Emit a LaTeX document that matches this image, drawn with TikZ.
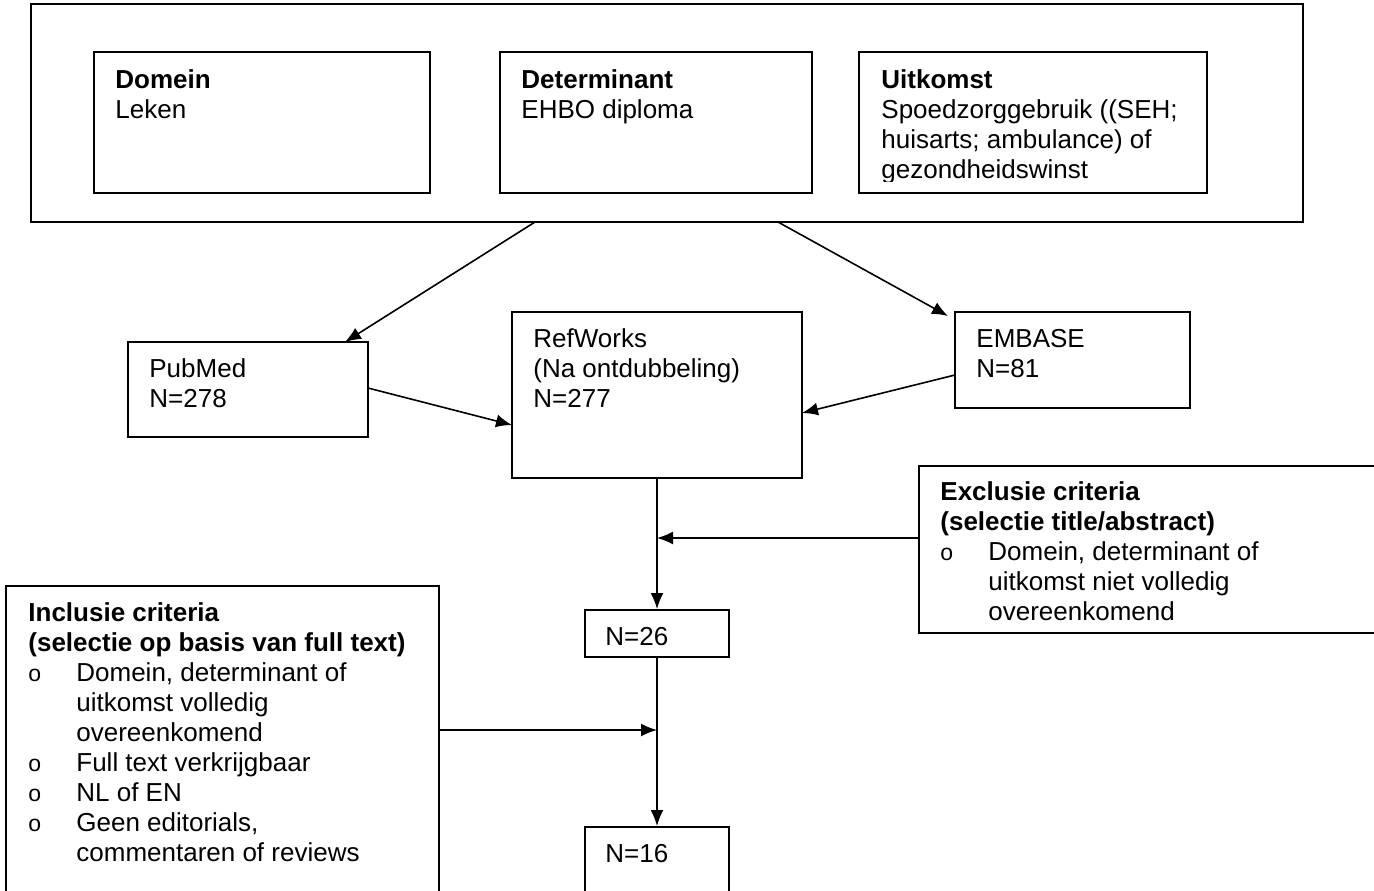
\documentclass[tikz,border=0pt]{standalone}
\usepackage{fontspec}
\setmainfont{Liberation Sans}
\usetikzlibrary{arrows.meta,fit}
\newcommand{\tlines}[1]{\vtop{\baselineskip=15pt\lineskiplimit=-20pt\lineskip=0pt #1}}
\newcommand{\bulline}[1]{\hbox{\makebox[24pt][l]{\fontsize{11.5}{12}\selectfont o}#1}}
\newcommand{\indline}[1]{\hbox{\hspace*{24pt}#1}}
\begin{document}
\begin{tikzpicture}[x=0.5pt,y=-0.5pt,
  box/.style={draw, line width=1pt, inner sep=0pt},
  lbl/.style={anchor=base west, inner sep=0pt, font=\fontsize{13}{15}\selectfont},
  arr/.style={line width=0.8pt, -{Latex[length=8pt,width=6.5pt]}}]
\useasboundingbox (0,0) rectangle (1374,890);
\clip (0,0) rectangle (1374,890);
\fill[white] (0,0) rectangle (1374,890);

% boxes
\node[box, fit={(31,4) (1303,222)}] (outer) {};
\node[box, fit={(94,52) (430,193)}] (domein) {};
\node[box, fit={(500,52) (812,193)}] (determ) {};
\node[box, fit={(859,52) (1207,193)}] (uitk) {};
\node[box, fit={(128,342) (368,437)}] (pubmed) {};
\node[box, fit={(512,312) (802,478)}] (refworks) {};
\node[box, fit={(955,312) (1190,408)}] (embase) {};
\node[box, fit={(919,466) (1400,633)}] (excl) {};
\node[box, fit={(6,586) (439,920)}] (incl) {};
\node[box, fit={(585,610) (729,657)}] (n26) {};
\node[box, fit={(585,827) (729,920)}] (n16) {};

% texts
\node[lbl] (tdom) at (115,88) {\tlines{\hbox{\bfseries Domein}\hbox{Leken}}};
\node[lbl] (tdet) at (521,88) {\tlines{\hbox{\bfseries Determinant}\hbox{EHBO diploma}}};
\begin{scope}
\clip (859,52) rectangle (1207,181);
\node[lbl] (tuit) at (881,88) {\tlines{\hbox{\bfseries Uitkomst}\hbox{Spoedzorggebruik ((SEH;}\hbox{huisarts; ambulance) of}\hbox{gezondheidswinst}}};
\end{scope}
\node[lbl] (tpub) at (149,377) {\tlines{\hbox{PubMed}\hbox{N=278}}};
\node[lbl] (tref) at (533,347) {\tlines{\hbox{RefWorks}\hbox{(Na ontdubbeling)}\hbox{N=277}}};
\node[lbl] (temb) at (976,347) {\tlines{\hbox{EMBASE}\hbox{N=81}}};
\node[lbl] (texc) at (940,500) {\tlines{\hbox{\bfseries Exclusie criteria}\hbox{\bfseries (selectie title/abstract)}\bulline{Domein, determinant of}\indline{uitkomst niet volledig}\indline{overeenkomend}}};
\node[lbl] (tinc) at (28,621) {\tlines{\hbox{\bfseries Inclusie criteria}\hbox{\bfseries (selectie op basis van full text)}\bulline{Domein, determinant of}\indline{uitkomst volledig}\indline{overeenkomend}\bulline{Full text verkrijgbaar}\bulline{NL of EN}\bulline{Geen editorials,}\indline{commentaren of reviews}}};
\node[lbl] (t26) at (605,645) {N=26};
\node[lbl] (t16) at (605,862) {N=16};

% connector end points
\coordinate (a1s) at (535,222);
\coordinate (a1e) at (345,342);
\coordinate (a2s) at (778,222);
\coordinate (a2e) at (948,316);
\coordinate (a3s) at (368,388);
\coordinate (a3e) at (512,425);
\coordinate (a4s) at (955,375);
\coordinate (a4e) at (802,413);
\coordinate (a6s) at (919,538);
\coordinate (a8s) at (439,730);

% connectors
\draw[arr] (a1s) -- (a1e);
\draw[arr] (a2s) -- (a2e);
\draw[arr] (a3s) -- (a3e);
\draw[arr] (a4s) -- (a4e);
\draw[arr] (refworks.south) -- (n26.north);
\draw[arr] (a6s) -- (a6s -| refworks.south);
\draw[arr] (n26.south) -- (n16.north);
\draw[arr] (a8s) -- (a8s -| n26.south);
\end{tikzpicture}
\end{document}
